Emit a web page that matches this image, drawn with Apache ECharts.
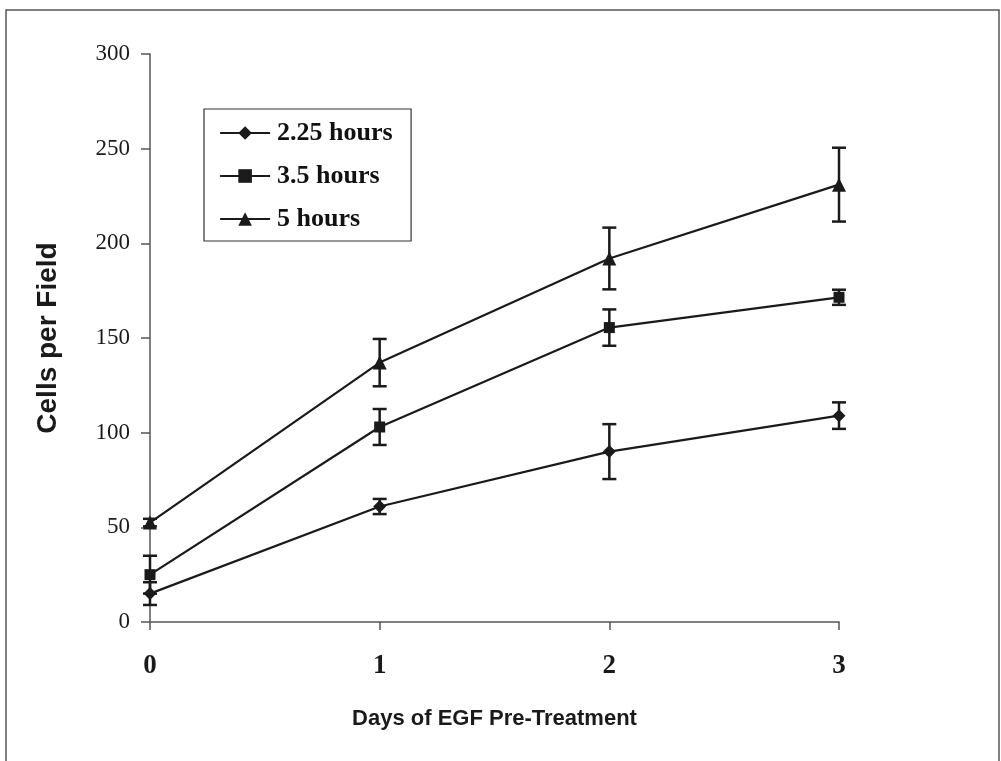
<!DOCTYPE html>
<html>
<head>
<meta charset="utf-8">
<script src="https://cdn.jsdelivr.net/npm/echarts@6/dist/echarts.min.js"></script>
<style>
html,body{margin:0;padding:0;background:#fff;}
#chart{width:1001px;height:761px;}
</style>
</head>
<body>
<div id="chart"></div>
<script>
// ---- data ----
const days = [0, 1, 2, 3];
const seriesNames = ['2.25 hours', '3.5 hours', '5 hours'];
const values225 = [15, 61, 90, 109];
const errors225 = [6, 4, 14.5, 7];
const values35 = [25, 103, 155.5, 171.5];
const errors35 = [10, 9.5, 9.6, 4];
const values5 = [52.5, 137, 192, 231];
const errors5 = [2, 12.5, 16.3, 19.5];
const yTicks = [0, 50, 100, 150, 200, 250, 300];

const allValues = [values225, values35, values5];
const allErrors = [errors225, errors35, errors5];
const symbols = ['diamond', 'rect', 'triangle'];
const symbolSizes = [13, 11, 14];

const chart = echarts.init(document.getElementById('chart'));

function errorData(vals, errs) {
  return days.map((d, i) => [d, vals[i] - errs[i], vals[i] + errs[i]]);
}

function renderError(params, api) {
  const x = api.value(0);
  const lo = api.coord([x, api.value(1)]);
  const hi = api.coord([x, api.value(2)]);
  const hw = 7;
  const style = { stroke: '#1a1a1a', lineWidth: 2.5 };
  return {
    type: 'group',
    children: [
      { type: 'line', shape: { x1: lo[0], y1: lo[1], x2: hi[0], y2: hi[1] }, style },
      { type: 'line', shape: { x1: lo[0] - hw, y1: lo[1], x2: lo[0] + hw, y2: lo[1] }, style },
      { type: 'line', shape: { x1: hi[0] - hw, y1: hi[1], x2: hi[0] + hw, y2: hi[1] }, style }
    ]
  };
}

const series = [];
seriesNames.forEach((name, k) => {
  series.push({
    type: 'custom',
    name: name + ' err',
    renderItem: renderError,
    data: errorData(allValues[k], allErrors[k]),
    encode: { x: 0, y: [1, 2] },
    z: 1,
    silent: true
  });
});
seriesNames.forEach((name, k) => {
  series.push({
    type: 'line',
    name: name,
    data: days.map((d, i) => [d, allValues[k][i]]),
    symbol: symbols[k],
    symbolSize: symbolSizes[k],
    showAllSymbol: true,
    lineStyle: { color: '#1a1a1a', width: 2.2 },
    itemStyle: { color: '#1a1a1a' },
    z: 3,
    animation: false
  });
});

chart.setOption({
  animation: false,
  backgroundColor: '#fff',
  graphic: [{
    type: 'rect',
    shape: { x: 6, y: 10, width: 993, height: 800 },
    style: { fill: 'none', stroke: '#555', lineWidth: 1.5 },
    silent: true
  }],
  grid: { left: 150, right: 162, top: 54, bottom: 139 },
  legend: {
    data: seriesNames,
    orient: 'vertical',
    left: 204,
    top: 109,
    itemWidth: 50,
    itemHeight: 17,
    itemGap: 17,
    padding: [11, 4, 9, 15],
    borderColor: '#333',
    borderWidth: 1.2,
    backgroundColor: '#fff',
    lineStyle: { width: 2.2, color: '#1a1a1a' },
    textStyle: { fontFamily: 'Liberation Serif', fontWeight: 'bold', fontSize: 26, lineHeight: 26, color: '#111', width: 130, padding: [0, 0, 0, 2] }
  },
  xAxis: {
    type: 'value',
    min: 0, max: 3, interval: 1,
    name: 'Days of EGF Pre-Treatment',
    nameLocation: 'middle',
    nameGap: 86,
    nameTextStyle: { fontFamily: 'Liberation Sans', fontWeight: 'bold', fontSize: 22, color: '#1a1a1a' },
    axisLine: { show: true, onZero: false, lineStyle: { color: '#555', width: 1.5 } },
    axisTick: { show: true, length: 8, lineStyle: { color: '#555', width: 1.5 } },
    splitLine: { show: false },
    axisLabel: { fontFamily: 'Liberation Serif', fontWeight: 'bold', fontSize: 27, color: '#1a1a1a', margin: 31 }
  },
  yAxis: {
    type: 'value',
    min: 0, max: 300, interval: 50,
    name: 'Cells per Field',
    nameLocation: 'middle',
    nameGap: 88,
    nameRotate: 90,
    nameTextStyle: { fontFamily: 'Liberation Sans', fontWeight: 'bold', fontSize: 28, color: '#1a1a1a' },
    axisLine: { show: true, lineStyle: { color: '#555', width: 1.5 } },
    axisTick: { show: true, length: 9, lineStyle: { color: '#555', width: 1.5 } },
    splitLine: { show: false },
    axisLabel: {
      fontFamily: 'Liberation Serif', fontSize: 23, color: '#1a1a1a', margin: 20,
      formatter: v => yTicks.indexOf(v) >= 0 ? String(v) : ''
    }
  },
  series: series
});
</script>
</body>
</html>
